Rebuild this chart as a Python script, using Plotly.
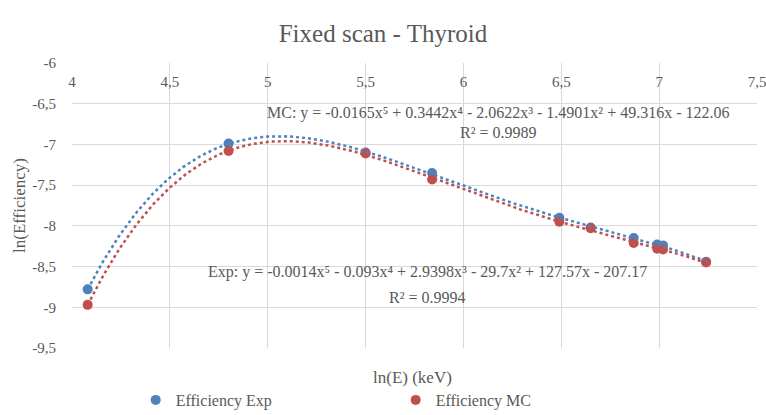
import numpy as np
import plotly.graph_objects as go

# Data
ln_e = [4.08, 4.80, 5.50, 5.84, 6.49, 6.65, 6.87, 6.99, 7.02, 7.24]
eff_exp = [-8.78, -6.99, -7.10, -7.35, -7.90, -8.02, -8.15, -8.23, -8.24, -8.44]
eff_mc = [-8.97, -7.08, -7.11, -7.43, -7.95, -8.03, -8.21, -8.28, -8.29, -8.45]

x_ticks = [4, 4.5, 5, 5.5, 6, 6.5, 7, 7.5]
x_tick_text = ["4", "4,5", "5", "5,5", "6", "6,5", "7", "7,5"]
y_ticks = [-6, -6.5, -7, -7.5, -8, -8.5, -9, -9.5]
y_tick_text = ["-6", "-6,5", "-7", "-7,5", "-8", "-8,5", "-9", "-9,5"]

title = "Fixed scan - Thyroid"
x_title = "ln(E) (keV)"
y_title = "ln(Efficiency)"
eq_mc = "MC: y = -0.0165x⁵ + 0.3442x⁴ - 2.0622x³ - 1.4901x² + 49.316x - 122.06"
r2_mc = "R² = 0.9989"
eq_exp = "Exp: y = -0.0014x⁵ - 0.093x⁴ + 2.9398x³ - 29.7x² + 127.57x - 207.17"
r2_exp = "R² = 0.9994"

BLUE = "#4F81BD"
RED = "#C0504D"
TXT = "#595959"
FONT = "Liberation Serif, Times New Roman, serif"
CLEAR = "rgba(0,0,0,0)"

xs = np.linspace(min(ln_e), max(ln_e), 300)
fit_exp = np.polyval(np.polyfit(ln_e, eff_exp, 5), xs)
fit_mc = np.polyval(np.polyfit(ln_e, eff_mc, 5), xs)

fig = go.Figure()
fig.add_trace(go.Scatter(x=ln_e, y=eff_exp, mode="markers", name="Efficiency Exp",
                         marker=dict(color=BLUE, size=10)))
fig.add_trace(go.Scatter(x=ln_e, y=eff_mc, mode="markers", name="Efficiency MC",
                         marker=dict(color=RED, size=10)))
fig.add_trace(go.Scatter(x=xs, y=fit_exp, mode="lines", showlegend=False,
                         line=dict(color=BLUE, width=2.5, dash="dot")))
fig.add_trace(go.Scatter(x=xs, y=fit_mc, mode="lines", showlegend=False,
                         line=dict(color=RED, width=2.5, dash="dot")))

fig.update_layout(
    width=766, height=415,
    margin=dict(l=72, r=9, t=63, b=67, autoexpand=False),
    paper_bgcolor="white", plot_bgcolor="white",
    font=dict(family=FONT, color=TXT, size=15),
    title=dict(text=title, x=0.5, xanchor="center", xref="container",
               y=(415 - 33) / 415, yanchor="middle",
               font=dict(family=FONT, size=25, color=TXT)),
    showlegend=True,
    legend=dict(orientation="h", x=0.093, xanchor="left",
                yref="container", y=(415 - 400) / 415, yanchor="middle",
                entrywidth=215, entrywidthmode="pixels",
                font=dict(family=FONT, size=16, color=TXT)),
    xaxis=dict(range=[4, 7.5], tickvals=x_ticks, ticktext=x_tick_text,
               anchor="free", position=1, side="bottom",
               showgrid=True, gridcolor="#D9D9D9",
               zeroline=False, showline=False,
               ticks="outside", ticklen=5, tickcolor=CLEAR,
               ticklabeloverflow="allow",
               tickfont=dict(family=FONT, size=15, color=TXT)),
    yaxis=dict(range=[-9.5, -6], tickvals=y_ticks, ticktext=y_tick_text,
               domain=[0, 1], showgrid=True,
               gridcolor="#D9D9D9", zeroline=False, showline=False,
               ticks="outside", ticklen=12, tickcolor=CLEAR,
               title=dict(text=y_title, standoff=2, font=dict(family=FONT, size=17, color=TXT)),
               tickfont=dict(family=FONT, size=15, color=TXT)),
)

fig.add_annotation(text=x_title, xref="paper", yref="paper", x=(412 - 72) / 685,
                   y=(348 - 377) / 285,
                   yanchor="middle", showarrow=False, font=dict(family=FONT, size=17, color=TXT))
fig.add_annotation(text=eq_mc, xref="x", yref="y", x=6.177, y=-6.614, showarrow=False,
                   font=dict(family=FONT, size=16, color=TXT))
fig.add_annotation(text=r2_mc, xref="x", yref="y", x=6.177, y=-6.848, showarrow=False,
                   font=dict(family=FONT, size=16, color=TXT))
fig.add_annotation(text=eq_exp, xref="x", yref="y", x=5.814, y=-8.567, showarrow=False,
                   font=dict(family=FONT, size=16, color=TXT))
fig.add_annotation(text=r2_exp, xref="x", yref="y", x=5.814, y=-8.875, showarrow=False,
                   font=dict(family=FONT, size=16, color=TXT))

fig.write_html("out.html")
